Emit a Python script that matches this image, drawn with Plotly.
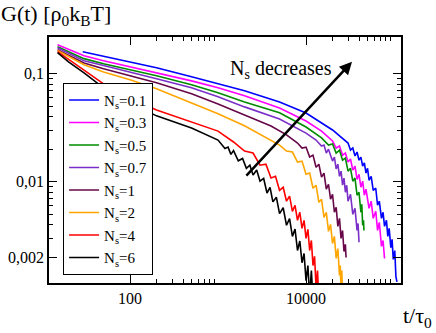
import math
import plotly.graph_objects as go

# G(t) curves, one pair of lists per N_s
t_01 = [29, 50, 100, 200, 500, 1000, 2000, 5000, 10000, 20000,
        30000, 32000, 34000, 36000, 38000, 40000, 42000, 44000, 46000, 48000,
        50000, 52000, 55000, 58000, 62000, 65000, 68000, 72000, 75000, 78000,
        82000, 85000, 88000, 92000, 95000, 98000, 102000, 105000, 108000]
g_01 = [0.160, 0.145, 0.129, 0.1135, 0.0937, 0.0807, 0.0694, 0.0548, 0.0433, 0.0301,
        0.0228, 0.0196, 0.0205, 0.0173, 0.0188, 0.0158, 0.0169, 0.0139, 0.0149, 0.0120,
        0.0133, 0.0103, 0.0112, 0.00832, 0.00869, 0.00604, 0.00659, 0.00457, 0.00520, 0.00385,
        0.00438, 0.00311, 0.00369, 0.00245, 0.00292, 0.00190, 0.00230, 0.00132, 0.00118]

t_03 = [15, 30, 50, 100, 200, 500, 1000, 2000, 5000, 10000, 15000, 20000,
        22000, 24000, 26000, 28000, 30000, 32000, 34000, 36000, 38000, 40000, 42000, 44000, 46000, 48000,
        52000, 55000, 58000, 62000, 65000, 68000, 72000, 75000, 78000]
g_03 = [0.186, 0.147, 0.132, 0.116, 0.102, 0.0859, 0.0740, 0.0624, 0.0482, 0.0365, 0.0294, 0.0238,
        0.0205, 0.0214, 0.0176, 0.0184, 0.0152, 0.0162, 0.0128, 0.0139, 0.0105, 0.0117, 0.00887, 0.0101, 0.00748, 0.00851,
        0.00566, 0.00659, 0.00457, 0.00531, 0.00353, 0.00420, 0.00251, 0.00285, 0.00194]

t_05 = [15, 30, 50, 100, 200, 500, 1000, 2000, 5000, 10000, 15000,
        18000, 20000, 22000, 24000, 26000, 28000, 30000, 32000, 34000, 36000, 38000, 40000,
        42000, 43000, 44000, 45000, 45500]
g_05 = [0.178, 0.138, 0.124, 0.109, 0.0957, 0.0789, 0.0665, 0.0548, 0.0434, 0.0321, 0.0254,
        0.0218, 0.0223, 0.0184, 0.0196, 0.0158, 0.0165, 0.0125, 0.0133, 0.0101, 0.0108, 0.00748, 0.00797,
        0.00520, 0.00617, 0.00394, 0.00438, 0.00353]

t_07 = [15, 30, 50, 100, 200, 500, 1000, 2000, 5000, 10000,
        13000, 15000, 16000, 17000, 18000,
        20000, 21000, 22000, 23000, 24000, 25000, 26000, 27000, 28000, 29000,
        30000, 32000, 34000, 36000, 38000, 39000, 40000]
g_07 = [0.174, 0.132, 0.119, 0.104, 0.0898, 0.0740, 0.0611, 0.0493, 0.0381, 0.0282,
        0.0243, 0.0214, 0.0218, 0.0184, 0.0200,
        0.0155, 0.0169, 0.0131, 0.0145, 0.0112, 0.0125, 0.00927, 0.0108, 0.00797, 0.00927,
        0.00659, 0.00764, 0.00498, 0.00566, 0.00353, 0.00410, 0.00274]

t_1 = [15, 30, 50, 100, 200, 500, 1000, 2000, 4000, 6000, 8000,
       9000, 10000, 11000, 12000, 13000, 14000, 15000, 16000, 17000, 18000,
       19000, 20000, 21000, 22000, 23000, 24000, 25000, 26000, 27000, 28000, 28500]
g_1 = [0.167, 0.126, 0.111, 0.0957, 0.0824, 0.0651, 0.0525, 0.0415, 0.0328, 0.0271, 0.0228,
       0.0205, 0.0209, 0.0169, 0.0176, 0.0136, 0.0145, 0.0110, 0.0120, 0.00851, 0.00946,
       0.00687, 0.00764, 0.00520, 0.00578, 0.00385, 0.00457, 0.00298, 0.00353, 0.00225, 0.00262, 0.00198]

t_2 = [15, 30, 50, 100, 200, 500, 1000, 2000, 3000, 4000, 5000,
       6000, 7000, 8000, 9000, 10000, 11000, 12000, 13000, 14000, 15000,
       16000, 17000, 18000, 19000, 20000, 21000, 22000, 23000, 24000,
       24500, 25000, 25500, 26000]
g_2 = [0.164, 0.121, 0.104, 0.0879, 0.0725, 0.0537, 0.0425, 0.0330, 0.0276, 0.0243, 0.0218,
       0.0192, 0.0188, 0.0152, 0.0155, 0.0117, 0.0120, 0.00869, 0.00927, 0.00644, 0.00687,
       0.00466, 0.00520, 0.00346, 0.00402, 0.00267, 0.00311, 0.00194, 0.00240, 0.00135,
       0.00167, 0.00098, 0.00150, 0.00080]

t_4 = [15, 20, 30, 50, 100, 200, 500, 1000, 1500,
       2000, 2500, 3000, 3500, 4000, 4500, 5000, 5500, 6000, 6500, 7000, 7500, 8000,
       8500, 9000, 9500, 10000, 10500, 11000, 11500, 12000, 12500, 13000, 13500, 14000]
g_4 = [0.160, 0.135, 0.108, 0.0807, 0.0597, 0.0462, 0.0357, 0.0294, 0.0233,
       0.0192, 0.0184, 0.0142, 0.0145, 0.0108, 0.0112, 0.00832, 0.00887, 0.00659, 0.00733, 0.00531, 0.00604, 0.00438,
       0.00520, 0.00369, 0.00438, 0.00298, 0.00361, 0.00230, 0.00285, 0.00167, 0.00203, 0.00105, 0.00150, 0.00080]

t_6 = [15, 20, 30, 50, 100, 200, 500, 1000,
       1200, 1300, 1400, 1500, 1700, 1900, 2100, 2300, 2500, 2750,
       3000, 3300, 3600, 3900, 4200, 4600,
       5000, 5500, 6000, 6500, 7000, 7500, 8000, 8500, 9000, 9500, 10000, 10500, 11000, 11500, 12000]
g_6 = [0.157, 0.129, 0.102, 0.0740, 0.0537, 0.0407, 0.0314, 0.0243,
       0.0203, 0.0209, 0.0179, 0.0194, 0.0156, 0.0164, 0.0133, 0.0142, 0.0115, 0.0128,
       0.0101, 0.0107, 0.00785, 0.00883, 0.00649, 0.00718,
       0.00505, 0.00573, 0.00394, 0.00454, 0.00311, 0.00363, 0.00230, 0.00282, 0.00177, 0.00216, 0.00121, 0.00167, 0.00085, 0.00150, 0.00080]

labels = ["0.1", "0.3", "0.5", "0.7", "1", "2", "4", "6"]
colors = ["#0000ff", "#ff00ff", "#008b00", "#7a30c8", "#670748", "#ffa500", "#ff0000", "#000000"]
series = [(t_01, g_01), (t_03, g_03), (t_05, g_05), (t_07, g_07),
          (t_1, g_1), (t_2, g_2), (t_4, g_4), (t_6, g_6)]

x_ticks = [100, 10000]
x_minor = [200, 300, 400, 500, 600, 700, 800, 900,
           20000, 30000, 40000, 50000, 60000, 70000, 80000, 90000]
y_ticks = [0.002, 0.01, 0.1]
y_ticklabels = ["0,002", "0,01", "0,1"]
y_minor = [0.003, 0.004, 0.005, 0.006, 0.007, 0.008, 0.009,
           0.02, 0.03, 0.04, 0.05, 0.06, 0.07, 0.08, 0.09]

arrow_tail = (2025, 0.011)
arrow_head = (33300, 0.129)

serif = "Liberation Serif, Times New Roman, serif"

fig = go.Figure()
for (t, g), lab, col in zip(series, labels, colors):
    fig.add_trace(go.Scatter(x=t, y=g, mode="lines", name="N<sub>s</sub>=" + lab,
                             line=dict(color=col, width=1.6)))

axis_common = dict(type="log", ticks="inside", ticklen=8, tickwidth=1, tickcolor="black",
                   showline=True, linecolor="black", linewidth=1.5, mirror="ticks",
                   showgrid=False, zeroline=False, automargin=False,
                   tickfont=dict(family=serif, size=16, color="black"))

fig.update_xaxes(range=[math.log10(12), math.log10(120000)], tickmode="array",
                 tickvals=x_ticks, ticktext=[str(v) for v in x_ticks],
                 minor=dict(tickmode="array", tickvals=x_minor, ticks="inside", ticklen=4,
                            tickcolor="black", showgrid=False),
                 **axis_common)
fig.update_yaxes(range=[math.log10(0.00115), math.log10(0.219)], tickmode="array",
                 tickvals=y_ticks, ticktext=y_ticklabels,
                 minor=dict(tickmode="array", tickvals=y_minor, ticks="inside", ticklen=4,
                            tickcolor="black", showgrid=False),
                 **axis_common)

fig.add_annotation(x=math.log10(arrow_head[0]), y=math.log10(arrow_head[1]),
                   ax=math.log10(arrow_tail[0]), ay=math.log10(arrow_tail[1]),
                   xref="x", yref="y", axref="x", ayref="y", text="",
                   showarrow=True, arrowhead=2, arrowsize=1, arrowwidth=2.5, arrowcolor="black")
fig.add_annotation(x=0.659, y=0.867, xref="paper", yref="paper", showarrow=False,
                   text="N<sub>s</sub> decreases", xanchor="center", yanchor="middle",
                   font=dict(family=serif, size=20, color="black"))
fig.add_annotation(x=-0.139, y=1.152, xref="paper", yref="paper", showarrow=False,
                   text="G(t) [ρ<sub>0</sub>k<sub>B</sub>T]", xanchor="left", yanchor="top",
                   borderpad=0, font=dict(family=serif, size=22, color="black"))
fig.add_annotation(x=1.091, y=-0.14, xref="paper", yref="paper", showarrow=False,
                   text="t/τ<sub>0</sub>", xanchor="right", yanchor="middle",
                   borderpad=0, font=dict(family=serif, size=22, color="black"))

fig.update_layout(width=436, height=333, margin=dict(l=49, r=35, t=37, b=50),
                  paper_bgcolor="white", plot_bgcolor="white",
                  showlegend=True,
                  legend=dict(x=0.04, y=0.814, xanchor="left", yanchor="top",
                              bgcolor="white", bordercolor="black", borderwidth=1,
                              itemwidth=30, tracegroupgap=0,
                              font=dict(family=serif, size=15, color="black")))

# drop the page's default body margin so the figure sits at the window origin
fig.write_html("out.html", config={"displayModeBar": False},
               post_script="document.body.style.margin = '0';")
